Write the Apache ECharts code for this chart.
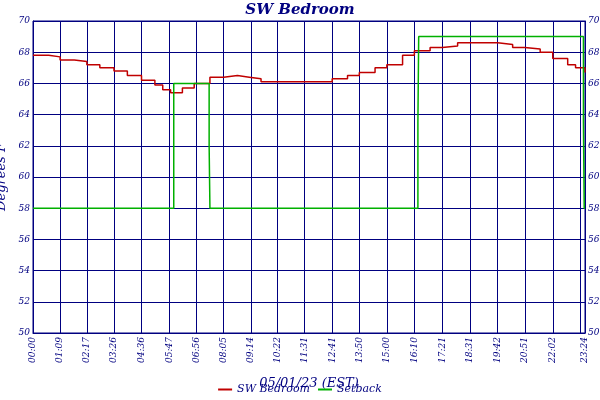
<!DOCTYPE html><html><head><meta charset="utf-8"><script src="https://cdn.jsdelivr.net/npm/echarts@6/dist/echarts.min.js"></script></head><body style="margin:0"><div id="c" style="width:600px;height:400px"></div><script>
const tickLabels=['00:00','01:09','02:17','03:26','04:36','05:47','06:56','08:05','09:14','10:22','11:31','12:41','13:50','15:00','16:10','17:21','18:31','19:42','20:51','22:02','23:12','23:24'];
const tempTimes=['00:00','00:40','01:09','01:45','02:17','02:50','03:26','04:00','04:36','05:10','05:30','05:50','06:20','06:50','07:30','08:05','08:40','09:10','09:40','11:00','12:00','12:41','13:20','13:50','14:30','15:00','15:40','16:10','16:50','17:21','18:00','18:31','19:00','19:42','20:20','20:51','21:30','22:02','22:40','23:00','23:24'];
const tempValues=[67.8,67.7,67.5,67.4,67.2,67.0,66.8,66.5,66.2,65.9,65.6,65.4,65.7,66.0,66.4,66.5,66.4,66.3,66.1,66.1,66.1,66.3,66.5,66.7,67.0,67.2,67.8,68.1,68.3,68.4,68.6,68.6,68.6,68.5,68.3,68.2,68.0,67.6,67.2,67.0,66.7];
const setTimes=['00:00','05:58','07:28','07:30','16:19','16:21','23:20','23:22','23:24'];
const setValues=[58,66,62,58,63.5,69,63.5,58,58];
const toMin=t=>{const [h,m]=t.split(':').map(Number);return h*60+m;};
const cats=[];for(let i=0;i<=1404;i++){cats.push(String(Math.floor(i/60)).padStart(2,'0')+':'+String(i%60).padStart(2,'0'));}
const tickSet=new Set(tickLabels.map(toMin));
const iv=(i)=>tickSet.has(i);
const navy='#000080';
const font={fontFamily:'DejaVu Serif',fontStyle:'italic',color:navy};
const c=echarts.init(document.getElementById('c'));
c.setOption({backgroundColor:'#fff',animation:false,
title:{text:'SW Bedroom',left:'center',top:-2,textStyle:{...font,fontSize:15,fontWeight:'bold'}},
grid:{left:33,right:15,top:21,bottom:67,show:true,borderColor:navy,borderWidth:1,containLabel:false,outerBoundsMode:'none'},
legend:{bottom:0,itemWidth:14,itemHeight:2,icon:'rect',textStyle:{...font,fontSize:11},data:['SW Bedroom','Setback']},
xAxis:{type:'category',data:cats,boundaryGap:false,name:'05/01/23 (EST)',nameLocation:'middle',nameGap:44,nameTextStyle:{...font,fontSize:13},
axisLine:{lineStyle:{color:navy}},axisTick:{show:false},
axisLabel:{interval:(i)=>iv(i),rotate:90,...font,fontSize:9,margin:4,showMaxLabel:true,hideOverlap:false},
splitLine:{show:true,interval:(i)=>iv(i),lineStyle:{color:navy,width:1}}},
yAxis:[{type:'value',min:50,max:70,interval:2,name:'Degrees F',nameLocation:'middle',nameGap:20,nameTextStyle:{...font,fontSize:13},
axisLine:{show:true,lineStyle:{color:navy}},axisTick:{show:false},axisLabel:{...font,fontSize:9,margin:3},splitLine:{lineStyle:{color:navy,width:1}}},
{type:'value',min:50,max:70,interval:2,position:'right',axisLine:{show:true,lineStyle:{color:navy}},axisTick:{show:false},axisLabel:{...font,fontSize:9,margin:3},splitLine:{show:false}}],
series:[{name:'SW Bedroom',type:'line',step:'end',symbol:'none',color:'#c00000',lineStyle:{width:1.5},data:tempTimes.map((t,i)=>[toMin(t),tempValues[i]])},
{name:'Setback',type:'line',step:'end',symbol:'none',color:'#00b000',lineStyle:{width:1.5},data:setTimes.map((t,i)=>[toMin(t),setValues[i]])}]});
</script></body></html>
